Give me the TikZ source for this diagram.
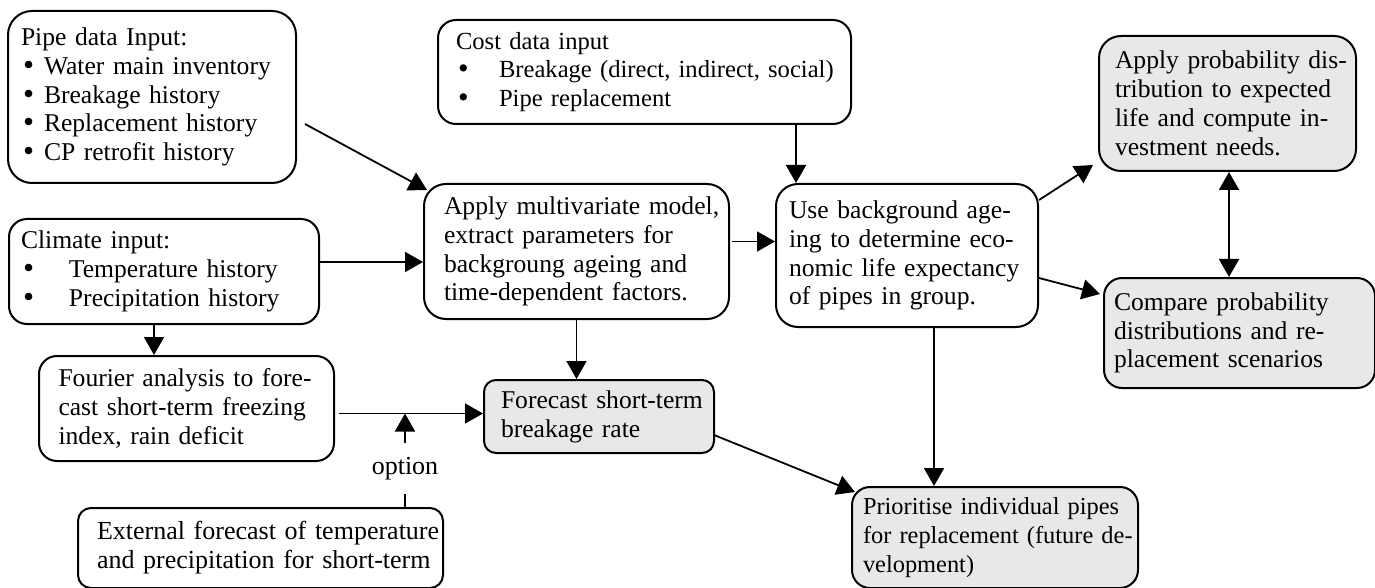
\documentclass[tikz,border=0pt]{standalone}
\usepackage{fontspec}
\setmainfont{Liberation Serif}
\newfontfamily\bulfont{DejaVu Sans}
\usepackage{tikz}
\usetikzlibrary{calc,positioning,arrows.meta}
\definecolor{BoxGray}{HTML}{E8E8E8}
\newcommand{\bul}[1]{\makebox[#1][l]{\bulfont •}}

\begin{document}
\begin{tikzpicture}[x=0.5pt, y=-0.5pt,
  >={Triangle[length=9pt,width=10pt]},
  flowbox/.style={draw, line width=1pt, rounded corners=9pt, anchor=north west,
    align=left, font=\fontsize{12.8}{14.4}\selectfont},
  shaded/.style={flowbox, fill=BoxGray},
  link/.style={->, line width=0.9pt}]
  \useasboundingbox (0,0) rectangle (1375,588);

  % Inputs
  \node[flowbox, rounded corners=12pt, minimum width=144pt, minimum height=86pt, text width=131pt, inner xsep=6.5pt] (pipe) at (7,10)
    {\mbox{Pipe data Input:}\\ \mbox{\bul{11.5pt}Water main inventory}\\ \mbox{\bul{11.5pt}Breakage history}\\ \mbox{\bul{11.5pt}Replacement history}\\ \mbox{\bul{11.5pt}CP retrofit history}};
  \node[flowbox, minimum width=155pt, minimum height=52.5pt, text width=143pt, inner xsep=6pt] (climate) at (8,218)
    {\mbox{Climate input:}\\ \mbox{\bul{24pt}Temperature history}\\ \mbox{\bul{24pt}Precipitation history}};
  \node[flowbox, minimum width=147.5pt, minimum height=52.5pt, text width=128pt, inner xsep=9.75pt] (fourier) at (38,355)
    {\mbox{Fourier analysis to fore-}\\ \mbox{cast short-term freezing}\\ \mbox{index, rain deficit}};
  \node[flowbox, font=\fontsize{13}{14.4}\selectfont, rounded corners=6.5pt, minimum width=182.5pt, minimum height=40pt, text width=163.5pt, inner xsep=9.5pt] (ext) at (77,507)
    {\mbox{External forecast of temperature}\\ \mbox{and precipitation for short-term}};
  \node[flowbox, font=\fontsize{12.3}{14.4}\selectfont, minimum width=206.5pt, minimum height=52pt, text width=188.5pt, inner xsep=9pt] (cost) at (437,19)
    {\mbox{Cost data input}\\ \mbox{\bul{21.5pt}Breakage (direct, indirect, social)}\\ \mbox{\bul{21.5pt}Pipe replacement}};

  % Processing
  \node[flowbox, rounded corners=11pt, minimum width=152.5pt, minimum height=67.5pt, text width=132.5pt, inner xsep=10pt] (multi) at (423,183)
    {\mbox{Apply multivariate model,}\\ \mbox{extract parameters for}\\ \mbox{backgroung ageing and}\\ \mbox{time-dependent factors.}};
  \node[flowbox, rounded corners=11pt, minimum width=131pt, minimum height=71.5pt, text width=118pt, inner xsep=6.5pt] (use) at (775,183)
    {\mbox{Use background age-}\\ \mbox{ing to determine eco-}\\ \mbox{nomic life expectancy}\\ \mbox{of pipes in group.}};

  % Outputs
  \node[shaded, rounded corners=6pt, minimum width=115pt, minimum height=36.5pt, text width=98pt, inner xsep=8.5pt] (fc) at (483,379)
    {\mbox{Forecast short-term}\\ \mbox{breakage rate}};
  \node[shaded, font=\fontsize{12.2}{14.4}\selectfont, minimum width=143pt, minimum height=50.5pt, text width=132pt, inner xsep=5.5pt] (prio) at (851,486)
    {\mbox{Prioritise individual pipes}\\ \mbox{for replacement (future de-}\\ \mbox{velopment)}};
  \node[shaded, rounded corners=11pt, minimum width=128.5pt, minimum height=67.5pt, text width=112.5pt, inner xsep=8pt] (prob) at (1098,35)
    {\mbox{Apply probability dis-}\\ \mbox{tribution to expected}\\ \mbox{life and compute in-}\\ \mbox{vestment needs.}};
  \node[shaded, minimum width=135.5pt, minimum height=55pt, text width=125.5pt, inner xsep=5pt] (cmp) at (1103,277)
    {\mbox{Compare probability}\\ \mbox{distributions and re-}\\ \mbox{placement scenarios}};

  % Helper points on the boxes
  \coordinate (clOut) at ($(climate.north east)+(0,44)$);
  \coordinate (clDown) at ($(climate.south west)+(146,0)$);
  \coordinate (fOut) at ($(fourier.east)+(4,5)$);
  \coordinate (optIn) at ($(ext.north east)+(-39,0)$);
  \coordinate (mOut) at ($(multi.east)+(2,-10)$);
  \coordinate (cDown) at ($(cost.south west)+(359,0)$);
  \coordinate (pDown) at ($(prob.south west)+(131,0)$);
  \coordinate (uDown) at ($(use.south west)+(159,0)$);

  % Connectors
  \draw[link] ($(pipe.north east)+(8,114)$) -- ($(multi.north west)+(4,7)$);
  \draw[link] (clOut) -- (clOut -| multi.west);
  \draw[link] (clDown) -- (clDown |- fourier.north);
  \draw[link] (fOut) -- (fOut -| fc.west);
  \draw[link] (optIn) -- node[pos=0.41, fill=white, inner ysep=7pt, inner xsep=1pt] (optlbl) {\fontsize{13}{14.4}\selectfont option} (optIn |- fOut);
  \draw[link] (multi.south) -- (multi.south |- fc.north);
  \draw[link] (mOut) -- (mOut -| use.west);
  \draw[link] (cDown) -- (cDown |- use.north);
  \draw[link] ($(use.north east)+(0,17)$) -- ($(prob.south west)+(-5,-7)$);
  \draw[link] ($(use.north east)+(0,95)$) -- ($(cmp.north west)+(-3,17)$);
  \draw[link, <->] (pDown) -- (pDown |- cmp.north);
  \draw[link] (uDown) -- (uDown |- prio.north);
  \draw[link] ($(fc.south east)+(-1,-19)$) -- ($(prio.north west)+(4,6)$);
\end{tikzpicture}
\end{document}
